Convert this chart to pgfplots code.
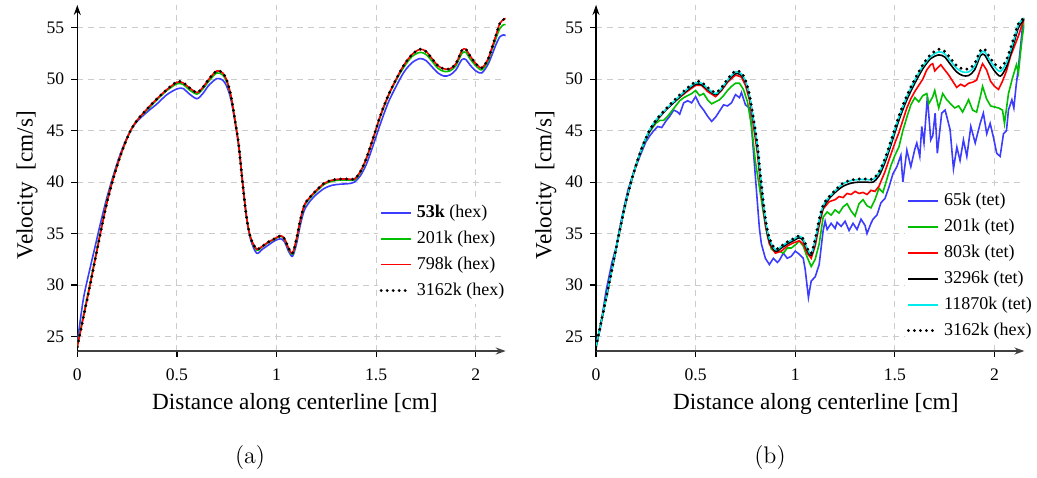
\documentclass[border=0pt]{standalone}
\usepackage{fontspec}
\usepackage{pgfplots}
\pgfplotsset{compat=1.18}
\usepackage{pgfplotstable}
\usetikzlibrary{arrows.meta}
\newfontfamily\cam{Liberation Serif}
\definecolor{cblue}{RGB}{60,60,255}
\definecolor{cgreen}{RGB}{0,190,0}
\definecolor{cred}{RGB}{255,0,0}
\definecolor{ccyan}{RGB}{0,235,235}

% hex meshes, shared x grid
\pgfplotstableread{
x     h53   h201  h798  h3162
0.00  24.4  24.1  24.0  24.0
0.03  28.6  27.0  26.8  26.8
0.06  31.3  29.8  29.6  29.6
0.09  33.8  32.7  32.5  32.5
0.12  36.3  35.5  35.4  35.4
0.15  38.6  38.2  38.1  38.1
0.18  40.6  40.4  40.3  40.3
0.21  42.4  42.2  42.2  42.2
0.24  43.9  43.8  43.8  43.8
0.27  45.1  45.1  45.1  45.1
0.30  45.9  46.0  46.0  46.0
0.35  46.8  47.0  47.1  47.1
0.40  47.6  48.0  48.1  48.1
0.45  48.5  48.9  49.0  49.0
0.50  49.05 49.55 49.7  49.75
0.53  49.1  49.5  49.65 49.7
0.56  48.6  49.0  49.2  49.2
0.60  48.1  48.55 48.7  48.7
0.63  48.6  49.05 49.2  49.2
0.66  49.4  49.8  50.0  50.0
0.70  50.05 50.6  50.8  50.8
0.73  49.9  50.4  50.6  50.6
0.75  49.3  49.75 49.9  49.9
0.77  48.1  48.4  48.5  48.5
0.79  46.0  46.1  46.2  46.2
0.81  43.5  43.6  43.6  43.6
0.83  40.0  39.8  39.8  39.8
0.85  36.5  36.5  36.5  36.5
0.87  34.4  34.6  34.6  34.6
0.90  33.1  33.4  33.5  33.5
0.93  33.5  33.75 33.8  33.8
0.96  33.9  34.15 34.2  34.2
0.99  34.3  34.45 34.5  34.5
1.02  34.5  34.75 34.8  34.8
1.04  34.2  34.45 34.5  34.5
1.06  33.3  33.55 33.6  33.6
1.08  32.8  33.0  33.1  33.1
1.10  34.0  34.4  34.5  34.5
1.12  35.9  36.3  36.4  36.4
1.14  37.3  37.7  37.8  37.8
1.17  38.2  38.5  38.6  38.6
1.20  38.8  39.1  39.2  39.2
1.24  39.4  39.8  39.9  39.9
1.28  39.7  40.1  40.2  40.2
1.32  39.8  40.2  40.3  40.3
1.36  39.85 40.2  40.3  40.3
1.39  40.0  40.2  40.3  40.3
1.42  40.6  40.9  41.0  41.0
1.45  41.7  42.2  42.3  42.3
1.48  43.3  43.9  44.0  44.0
1.52  45.6  46.3  46.4  46.4
1.56  47.7  48.3  48.4  48.4
1.60  49.3  49.9  50.0  50.0
1.64  50.7  51.2  51.4  51.4
1.68  51.6  52.2  52.4  52.4
1.72  52.0  52.6  52.9  52.9
1.75  51.8  52.4  52.7  52.7
1.78  51.2  51.75 52.0  52.0
1.81  50.6  51.05 51.3  51.3
1.84  50.3  50.75 51.0  51.0
1.87  50.4  50.8  51.0  51.0
1.90  50.9  51.3  51.5  51.5
1.93  51.9  52.5  52.8  52.8
1.95  51.9  52.6  52.9  52.9
1.97  51.4  52.0  52.3  52.3
2.00  50.8  51.3  51.5  51.5
2.03  50.6  50.9  51.1  51.1
2.06  51.4  51.7  51.9  51.9
2.08  52.3  52.8  53.0  53.0
2.10  53.3  53.9  54.2  54.2
2.12  54.1  54.9  55.4  55.4
2.14  54.3  55.3  55.8  55.8
2.15  54.2  55.3  55.9  55.9
}\hexdata

% fine tet meshes, same grid
\pgfplotstableread{
x     t3296  t11870
0.00  24.0   24.0
0.03  26.8   26.8
0.06  29.6   29.6
0.09  32.5   32.5
0.12  35.4   35.4
0.15  38.1   38.1
0.18  40.3   40.3
0.21  42.2   42.2
0.24  43.8   43.8
0.27  45.0   45.1
0.30  45.9   46.0
0.35  47.0   47.05
0.40  47.9   48.0
0.45  48.8   48.9
0.50  49.5   49.65
0.53  49.45  49.6
0.56  49.0   49.1
0.60  48.5   48.6
0.63  49.0   49.1
0.66  49.8   49.9
0.70  50.55  50.7
0.73  50.35  50.5
0.75  49.7   49.8
0.77  48.3   48.4
0.79  46.0   46.1
0.81  43.3   43.5
0.83  39.5   39.7
0.85  36.2   36.4
0.87  34.3   34.5
0.90  33.3   33.45
0.93  33.6   33.75
0.96  34.0   34.15
0.99  34.3   34.45
1.02  34.6   34.75
1.04  34.3   34.45
1.06  33.4   33.55
1.08  32.9   33.05
1.10  34.2   34.4
1.12  36.1   36.3
1.14  37.5   37.7
1.17  38.4   38.55
1.20  39.0   39.15
1.24  39.6   39.85
1.28  39.9   40.15
1.32  40.0   40.25
1.36  40.0   40.25
1.39  40.0   40.25
1.42  40.6   40.9
1.45  41.9   42.2
1.48  43.6   43.9
1.52  46.0   46.3
1.56  48.0   48.3
1.60  49.6   49.9
1.64  51.0   51.25
1.68  52.0   52.2
1.72  52.35  52.65
1.75  52.15  52.45
1.78  51.4   51.75
1.81  50.7   51.05
1.84  50.35  50.7
1.87  50.35  50.7
1.90  50.9   51.25
1.93  52.3   52.55
1.95  52.35  52.65
1.97  51.7   52.05
2.00  50.8   51.2
2.03  50.3   50.75
2.06  51.2   51.6
2.08  52.4   52.75
2.10  53.7   54.0
2.12  55.0   55.3
2.14  55.6   55.8
2.15  55.9   55.9
}\tetdata

\pgfplotsset{
  velax/.style={
    scale only axis, width=214.2pt, height=173pt,
    xmin=0, xmax=2.15, ymin=23.6, ymax=57.2,
    axis x line=bottom, axis y line=left,
    x axis line style={line width=1.1pt, draw=black!75, -{Stealth[length=5pt,width=3.5pt]}},
    y axis line style={line width=0.7pt, -{Stealth[length=5pt,width=3.5pt]}},
    xtick={0,0.5,1,1.5,2}, ytick={25,30,...,55},
    tick align=outside, major tick length=3pt,
    tick style={black, line width=0.6pt},
    grid=major,
    grid style={gray!40, line width=0.5pt, dash pattern=on 3pt off 2.5pt},
    /pgf/number format/assume math mode=true,
    tick label style={font=\fontsize{8.8}{10}\cam},
    xticklabel style={yshift=-2.5pt},
    label style={font=\fontsize{11.6}{13}\cam},
    xlabel={Distance along centerline [cm]},
    ylabel={Velocity\ \ [cm/s]},
    y label style={at={(axis description cs:-0.117,0.48)}, anchor=center},
    legend cell align=left,
    legend image code/.code={\draw[##1] (0pt,0pt) -- (15pt,0pt);},
    every axis plot/.append style={line width=0.8pt},
  },
  dotref/.style={black, line width=1.6pt, line cap=round, dash pattern=on 0pt off 3pt},
}

\begin{document}
\begin{tikzpicture}
\path[use as bounding box] (-38.65pt,-63pt) rectangle (479.85pt,175.5pt);

\begin{axis}[velax, at={(0pt,0pt)}, anchor=south west,
  x label style={at={(axis description cs:0.508,-0.153)}, anchor=center},
  legend style={at={(0.70,0.44)}, anchor=north west, draw=none, fill=white,
    inner sep=1pt, row sep=1.2pt, font=\fontsize{9}{10}\cam}]
\addplot[cblue, smooth] table[x=x, y=h53] {\hexdata};
\addlegendentry{\textbf{53k} (hex)}
\addplot[cgreen, smooth] table[x=x, y=h201] {\hexdata};
\addlegendentry{201k (hex)}
\addplot[cred, smooth] table[x=x, y=h798] {\hexdata};
\addlegendentry{798k (hex)}
\addplot[dotref, smooth] table[x=x, y=h3162] {\hexdata};
\addlegendentry{3162k (hex)}
\end{axis}

\begin{axis}[velax, at={(259.35pt,0pt)}, anchor=south west,
  x label style={at={(axis description cs:0.513,-0.153)}, anchor=center},
  legend style={at={(0.72,0.474)}, anchor=north west, draw=none, fill=white,
    inner sep=1pt, row sep=1.2pt, font=\fontsize{9}{10}\cam}]
\addplot[cblue] coordinates {
(0,24.4) (0.02,25.6) (0.05,29.4) (0.08,32.2) (0.10,33.6) (0.13,36.6) (0.16,39.2)
(0.19,41.0) (0.22,42.5) (0.25,43.9) (0.27,44.5) (0.29,45.0) (0.31,45.4) (0.33,45.3)
(0.35,45.9) (0.37,46.4) (0.39,47.0) (0.41,46.8) (0.42,46.6) (0.44,47.7) (0.46,47.9)
(0.48,47.7) (0.50,48.3) (0.52,47.5) (0.54,47.0) (0.56,46.4) (0.58,45.9) (0.60,46.3)
(0.62,46.9) (0.64,47.5) (0.66,47.4) (0.68,47.7) (0.70,48.5) (0.72,48.2) (0.73,48.7)
(0.75,47.5) (0.77,47.2) (0.78,45.5) (0.79,43.0) (0.80,40.5) (0.81,38.0) (0.82,35.5)
(0.83,34.0) (0.85,32.6) (0.87,32.0) (0.89,32.6) (0.91,32.2) (0.92,32.4) (0.94,33.1)
(0.96,32.6) (0.98,32.8) (1.00,33.3) (1.02,33.0) (1.04,32.6) (1.05,31.5) (1.066,28.8)
(1.08,30.4) (1.10,30.8) (1.12,32.0) (1.14,35.3) (1.15,36.2) (1.16,35.4) (1.18,36.0)
(1.20,35.5) (1.21,36.1) (1.23,35.7) (1.25,36.2) (1.27,35.3) (1.29,36.0) (1.31,35.4)
(1.33,36.4) (1.35,35.8) (1.36,35.0) (1.38,36.0) (1.39,36.4) (1.41,36.8) (1.43,38.0)
(1.45,38.4) (1.47,39.5) (1.49,40.8) (1.51,41.5) (1.53,42.6) (1.54,40.0) (1.56,43.1)
(1.58,41.5) (1.60,43.2) (1.61,43.8) (1.625,42.5) (1.635,45.4) (1.646,43.8) (1.663,48.3)
(1.68,44.1) (1.69,44.5) (1.702,46.7) (1.713,42.8) (1.735,46.7) (1.752,47.0) (1.777,45.1)
(1.794,41.3) (1.811,43.4) (1.827,42.1) (1.844,44.1) (1.861,42.5) (1.881,45.4) (1.903,43.8)
(1.928,45.7) (1.944,46.7) (1.961,44.7) (1.978,45.7) (1.994,44.4) (2.011,42.8) (2.028,42.5)
(2.045,44.7) (2.06,45.0) (2.07,47.0) (2.087,48.0) (2.097,47.2) (2.108,49.3) (2.12,51.2)
(2.137,54.4) (2.142,55.5)
};
\addlegendentry{65k (tet)}
\addplot[cgreen] coordinates {
(0,24.0) (0.03,26.8) (0.06,29.6) (0.09,32.5) (0.12,35.4) (0.15,38.1) (0.18,40.3)
(0.21,42.2) (0.24,43.7) (0.27,44.9) (0.30,45.7) (0.32,46.0) (0.34,46.0) (0.36,46.4)
(0.38,46.9) (0.40,47.4) (0.42,47.9) (0.44,48.2) (0.46,48.4) (0.48,48.6) (0.50,48.9)
(0.52,48.4) (0.54,48.6) (0.56,48.0) (0.58,47.6) (0.60,47.8) (0.62,48.0) (0.64,48.4)
(0.66,48.9) (0.68,49.3) (0.70,49.6) (0.72,49.6) (0.74,49.0) (0.76,47.8) (0.78,45.5)
(0.80,42.0) (0.82,39.5) (0.84,37.0) (0.86,34.8) (0.88,33.5) (0.90,33.2) (0.92,33.3)
(0.94,33.1) (0.96,33.6) (0.98,33.6) (1.00,33.9) (1.02,34.3) (1.04,33.8) (1.06,32.7)
(1.08,31.8) (1.10,32.5) (1.12,34.0) (1.14,36.6) (1.16,37.1) (1.18,36.8) (1.20,37.3)
(1.22,37.0) (1.24,37.6) (1.26,37.9) (1.28,37.2) (1.30,36.7) (1.32,37.9) (1.34,38.3)
(1.36,37.7) (1.38,37.5) (1.40,38.3) (1.42,39.4) (1.44,39.0) (1.46,40.3) (1.48,41.6)
(1.50,42.6) (1.52,43.4) (1.54,45.0) (1.56,46.3) (1.58,47.5) (1.60,48.2) (1.62,47.8)
(1.64,48.4) (1.66,48.6) (1.67,47.6) (1.69,48.3) (1.70,48.9) (1.72,47.2) (1.74,48.6)
(1.76,48.0) (1.78,47.6) (1.80,47.2) (1.82,47.4) (1.84,46.8) (1.86,47.6) (1.87,48.0)
(1.89,47.0) (1.91,46.8) (1.93,48.4) (1.94,49.3) (1.96,48.1) (1.98,47.4) (2.00,47.3)
(2.02,47.2) (2.04,47.0) (2.05,45.7) (2.07,48.6) (2.09,50.1) (2.11,51.4) (2.12,50.6)
(2.13,52.5) (2.14,54.2) (2.15,55.5)
};
\addlegendentry{201k (tet)}
\addplot[cred] coordinates {
(0,24.0) (0.03,26.8) (0.06,29.6) (0.09,32.5) (0.12,35.4) (0.15,38.1) (0.18,40.3)
(0.21,42.2) (0.24,43.8) (0.27,45.0) (0.30,45.9) (0.35,47.0) (0.40,47.9) (0.45,48.7)
(0.50,49.4) (0.53,49.4) (0.56,48.8) (0.60,48.3) (0.63,48.9) (0.66,49.7) (0.70,50.4)
(0.73,50.2) (0.75,49.4) (0.77,48.0) (0.79,45.5) (0.81,42.8) (0.83,39.0) (0.85,35.8)
(0.87,34.0) (0.90,33.1) (0.93,33.3) (0.96,33.8) (0.99,34.1) (1.02,34.3) (1.04,34.0)
(1.06,33.1) (1.08,32.6) (1.10,33.8) (1.12,35.8) (1.14,37.4) (1.17,38.1) (1.20,38.3)
(1.22,38.6) (1.24,38.5) (1.26,38.9) (1.28,38.8) (1.30,39.1) (1.32,38.9) (1.34,39.0)
(1.36,38.8) (1.38,39.2) (1.40,39.1) (1.42,39.6) (1.45,41.0) (1.48,42.7) (1.50,43.8)
(1.52,44.8) (1.54,46.0) (1.56,47.2) (1.58,48.1) (1.60,48.8) (1.62,49.4) (1.64,50.0)
(1.66,50.9) (1.68,51.4) (1.69,51.5) (1.70,50.8) (1.72,51.2) (1.73,51.4) (1.75,50.9)
(1.77,50.4) (1.79,49.8) (1.81,49.2) (1.83,49.5) (1.85,49.3) (1.87,49.6) (1.89,49.7)
(1.91,49.9) (1.93,51.0) (1.94,51.5) (1.96,50.9) (1.98,49.8) (2.00,49.3) (2.02,49.0)
(2.04,49.8) (2.06,50.8) (2.08,52.2) (2.10,53.2) (2.12,54.2) (2.14,55.4) (2.15,55.8)
};
\addlegendentry{803k (tet)}
\addplot[black, smooth] table[x=x, y=t3296] {\tetdata};
\addlegendentry{3296k (tet)}
\addplot[ccyan, smooth] table[x=x, y=t11870] {\tetdata};
\addlegendentry{11870k (tet)}
\addplot[dotref, smooth] table[x=x, y=h3162] {\hexdata};
\addlegendentry{3162k (hex)}
\end{axis}

\node[font=\fontsize{12}{14}\selectfont] at (86.4pt,-53.5pt) {(a)};
\node[font=\fontsize{12}{14}\selectfont] at (346.35pt,-53.5pt) {(b)};
\end{tikzpicture}
\end{document}
